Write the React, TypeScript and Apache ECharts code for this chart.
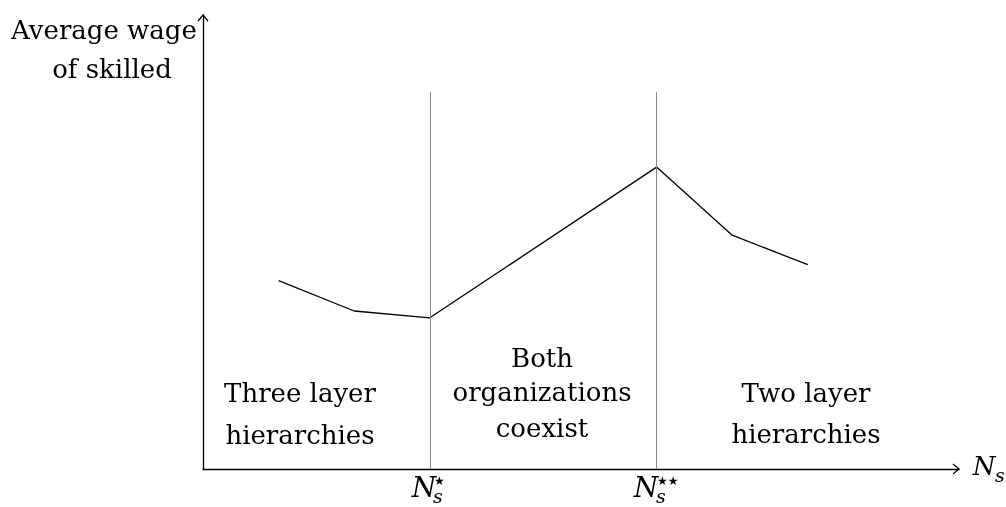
import React, { useEffect, useRef } from "react";
import * as echarts from "echarts";

const wageX = [1, 2, 3, 6, 7, 8];
const wageY = [4.15, 3.48, 3.33, 6.65, 5.15, 4.5];
const thresholds = [3, 6];
const thresholdTop = 8.3;
const regionLabels = [
  ["Three layer", "hierarchies"],
  ["Both", "organizations", "coexist"],
  ["Two layer", "hierarchies"],
];
const yTitle = ["Average wage", "of skilled"];

const serif = "DejaVu Serif";

export default function App() {
  const ref = useRef<HTMLDivElement>(null);
  useEffect(() => {
    if (!ref.current) return;
    const chart = echarts.init(ref.current, null, { renderer: "svg" });
    const txt = (s: string, x: number, y: number, size = 26, extra: any = {}) => ({
      type: "text",
      x,
      y,
      style: {
        text: s,
        fontFamily: serif,
        fontSize: size,
        fill: "#000",
        align: "center",
        verticalAlign: "middle",
        ...extra,
      },
    });
    const it = { fontStyle: "italic" };
    const star = (s: string, x: number, y: number) => ({
      type: "text",
      x,
      y,
      style: {
        text: s,
        fontFamily: "DejaVu Sans",
        fontSize: 12,
        fill: "#000",
        align: "left",
        verticalAlign: "middle",
      },
    });
    const graphic: any[] = [
      txt(yTitle[0], 104, 30),
      txt(yTitle[1], 112, 69),
      txt(regionLabels[0][0], 300, 393),
      txt(regionLabels[0][1], 300, 435),
      txt(regionLabels[1][0], 542, 358),
      txt(regionLabels[1][1], 542, 392),
      txt(regionLabels[1][2], 542, 428),
      txt(regionLabels[2][0], 806, 393),
      txt(regionLabels[2][1], 806, 434),
      // tick labels
      txt("N", 424, 487, 28, it),
      txt("s", 433, 496, 19, { ...it, align: "left" }),
      star("★", 434, 481),
      txt("N", 646, 487, 28, it),
      txt("s", 656, 496, 19, { ...it, align: "left" }),
      star("★★", 657, 481),
      // axis title
      txt("N", 984, 466, 26, it),
      txt("s", 995, 475, 19, { ...it, align: "left" }),
      // arrow heads
      {
        type: "polyline",
        shape: { points: [[953, 464], [959, 469], [953, 474]] },
        style: { stroke: "#000", lineWidth: 1.2, fill: "none" },
      },
      {
        type: "polyline",
        shape: { points: [[198, 21], [203, 15], [208, 21]] },
        style: { stroke: "#000", lineWidth: 1.2, fill: "none" },
      },
    ];
    chart.setOption({
      animation: false,
      grid: { left: 203, right: 47, top: 15, bottom: 38 },
      xAxis: {
        type: "value",
        min: 0,
        max: 10,
        axisLine: { show: true, onZero: false, lineStyle: { color: "#000", width: 1.3 } },
        axisTick: { show: false },
        axisLabel: { show: false },
        splitLine: { show: false },
      },
      yAxis: {
        type: "value",
        min: 0,
        max: 10,
        axisLine: { show: true, onZero: false, lineStyle: { color: "#000", width: 1.3 } },
        axisTick: { show: false },
        axisLabel: { show: false },
        splitLine: { show: false },
      },
      series: [
        {
          type: "line",
          data: wageX.map((x, i) => [x, wageY[i]]),
          symbol: "none",
          lineStyle: { color: "#000", width: 1.3 },
          markLine: {
            silent: true,
            symbol: "none",
            label: { show: false },
            lineStyle: { color: "#888", width: 1, type: "solid" },
            data: thresholds.map((t) => [
              { coord: [t, 0] },
              { coord: [t, thresholdTop] },
            ]),
          },
        },
      ],
      graphic,
    });
    return () => chart.dispose();
  }, []);
  return (
    <div
      ref={ref}
      style={{ position: "fixed", left: 0, top: 0, width: 1006, height: 507 }}
    />
  );
}
